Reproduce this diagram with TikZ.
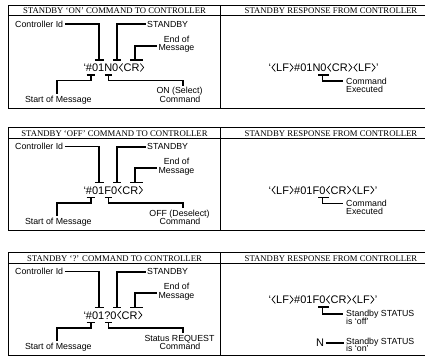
\documentclass[tikz,border=0pt]{standalone}
\usepackage{fontspec}
\setmainfont{Liberation Sans}
\newfontfamily\serifhdr{Liberation Serif}
\newcommand\LAng{\hspace{0.06em}\tikz[baseline=0pt]\draw[line width=0.7pt, line join=miter] (0.3em,0.73em) -- (0em,0.365em) -- (0.3em,0em);\hspace{0.05em}}
\newcommand\RAng{\hspace{0.05em}\tikz[baseline=0pt]\draw[line width=0.7pt, line join=miter] (0em,0.73em) -- (0.3em,0.365em) -- (0em,0em);\hspace{0.06em}}
\tikzset{
  frame/.style={line width=0.9pt, draw=black},
  lead/.style={line width=1.8pt, line cap=butt, line join=miter},
  hdr/.style={font=\serifhdr\fontsize{8.7}{9}\selectfont, inner sep=0pt},
  lbl/.style={font=\fontsize{8.8}{9}\selectfont, inner sep=0pt},
  cmdtxt/.style={font=\fontsize{11}{12}\selectfont, inner sep=0pt},
}
% #1 prefix #2 top #3 response centre offset #4 header #5 command #6 label line 1
% #7 response #8 response label 1 #9 response label 2
\newcommand\cmdpanel[9]{%
  \pgfmathsetmacro\pnT{#2}%
  \pgfmathsetmacro\pnB{#2+103}%
  \pgfmathsetmacro\pnC{#2+62.5}%
  \pgfmathsetmacro\pnR{#2+#3}%
  \draw[frame] (426,\pnT) -- (8.8,\pnT) -- (8.8,\pnB) -- (426,\pnB);
  \draw[frame] (8.8,\pnT+10.7) -- (426,\pnT+10.7);
  \draw[frame] (220.5,\pnT) -- (220.5,\pnB);
  \node[hdr] (#1hl) at (114.5,\pnT+6) {#4};
  \node[hdr] (#1hr) at (331,\pnT+6) {STANDBY RESPONSE FROM CONTROLLER};
  % command text
  \node[cmdtxt, anchor=base west] (#1cmd) at (83.3,\pnC+4) {#5};
  % top labels
  \node[lbl, anchor=base west] (#1ctrl) at (15,\pnT+22.2) {Controller Id};
  \node[lbl, anchor=base west] (#1sb) at (147,\pnT+22.2) {STANDBY};
  \node[lbl, anchor=base] (#1eo) at (176.5,\pnT+37.2) {End of};
  \node[lbl, anchor=base] (#1ms) at (176.5,\pnT+45.5) {Message};
  \coordinate (#1ka) at (99.3,\pnC-7.5);
  \coordinate (#1kb) at (117,\pnC-7.5);
  \coordinate (#1kc) at (135,\pnC-7.5);
  \draw[lead] ([xshift=1.5pt]#1ctrl.east) -| (#1ka);
  \draw[lead] ([xshift=-4.5pt]#1ka) -- ([xshift=4.5pt]#1ka);
  \draw[lead] ([xshift=-1.5pt]#1sb.west) -| (#1kb);
  \draw[lead] ([xshift=-4pt]#1kb) -- ([xshift=4pt]#1kb);
  \draw[lead] ([xshift=-1.5pt,yshift=2.5pt]#1ms.west) -| (#1kc);
  \draw[lead] ([xshift=-5pt]#1kc) -- ([xshift=8pt]#1kc);
  % bottom labels
  \node[lbl, anchor=base] (#1st) at (58.3,\pnT+97) {Start of Message};
  \node[lbl, anchor=base] (#1o1) at (179.5,\pnT+88.7) {#6};
  \node[lbl, anchor=base] (#1o2) at (180,\pnT+97) {Command};
  \coordinate (#1kd) at (90.7,\pnC+7.5);
  \coordinate (#1ke) at (108.5,\pnC+7.5);
  \draw[lead] (#1kd) -- ++(0,5.5) -| ([yshift=1.5pt]#1st.north -| 56.7,0);
  \draw[lead] ([xshift=-4pt]#1kd) -- ([xshift=4pt]#1kd);
  \draw[lead] (#1ke) -- ++(0,5.5) -| ([yshift=1.5pt]#1o1.north -| 183.3,0);
  \draw[lead] ([xshift=-3.7pt]#1ke) -- ([xshift=3.7pt]#1ke);
  % response
  \node[cmdtxt, anchor=base west] (#1rsp) at (268.3,\pnR+4) {#7};
  \node[lbl, anchor=base west] (#1x1) at (346,\pnR+16.7) {#8};
  \node[lbl, anchor=base west] (#1x2) at (346,\pnR+24.7) {#9};
  \coordinate (#1kf) at (322.5,\pnR+7.5);
  \draw[lead] (#1kf) |- ([xshift=-3pt]#1x1.west);
  \draw[lead] ([xshift=-4.5pt]#1kf) -- ([xshift=6.5pt]#1kf);
}
\begin{document}
\begin{tikzpicture}[x=1pt,y=-1pt]
\useasboundingbox (0,0) rectangle (425,357);
\cmdpanel{a}{5}{62.5}{STANDBY ‘ON’ COMMAND TO CONTROLLER}
  {‘\#01N0\LAng CR\RAng}{ON (Select)}
  {‘\LAng LF\RAng\#01N0\LAng CR\RAng\LAng LF\RAng’}{Command}{Executed}
\cmdpanel{b}{127.5}{62.5}{STANDBY ‘OFF’ COMMAND TO CONTROLLER}
  {‘\#01F0\LAng CR\RAng}{OFF (Deselect)}
  {‘\LAng LF\RAng\#01F0\LAng CR\RAng\LAng LF\RAng’}{Command}{Executed}
\cmdpanel{c}{252.5}{47}{STANDBY ‘?’ COMMAND TO CONTROLLER}
  {‘\#01?0\LAng CR\RAng}{Status REQUEST}
  {‘\LAng LF\RAng\#01F0\LAng CR\RAng\LAng LF\RAng’}{Standby STATUS}{is ‘off’}
\node[cmdtxt, anchor=base] (cN) at (320,346.5) {N};
\node[lbl, anchor=base west] (cy1) at (346,344) {Standby STATUS};
\node[lbl, anchor=base west] (cy2) at (346,351.5) {is ‘on’};
\draw[lead] ([xshift=1.5pt]cN.east) -- ([xshift=-2.5pt]cN.east -| cy1.west);
\end{tikzpicture}
\end{document}
